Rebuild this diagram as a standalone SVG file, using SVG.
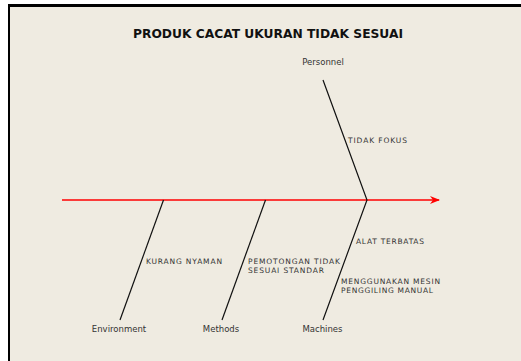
<svg xmlns="http://www.w3.org/2000/svg" width="521" height="361" viewBox="0 0 521 361">
<style>
.bone{stroke:#111;stroke-width:1.2;fill:none}
.t{font-family:"DejaVu Sans","Liberation Sans",sans-serif;fill:#333}
.cat{font-size:8.5px;text-anchor:middle}
.cause{font-size:7.5px}
.title{font-family:"DejaVu Sans","Liberation Sans",sans-serif;font-weight:bold;font-size:12px;fill:#111;text-anchor:middle}
</style>
<defs>
<marker id="arr" viewBox="0 0 10 10" refX="9" refY="5" markerWidth="10" markerHeight="10" markerUnits="userSpaceOnUse" orient="auto">
<path d="M0,1 L10,5 L0,9 L3,5 Z" fill="#ff0000"/>
</marker>
</defs>
<rect x="0" y="0" width="521" height="361" fill="#ffffff"/>
<rect x="8" y="4" width="513" height="357" fill="#000"/>
<rect x="10" y="7" width="511" height="354" fill="#efebe1"/>
<text class="title" x="268" y="38" textLength="270" lengthAdjust="spacingAndGlyphs">PRODUK CACAT UKURAN TIDAK SESUAI</text>
<g id="connectors">
<line x1="62" y1="200" x2="439" y2="200" stroke="#ff0000" stroke-width="1.3" marker-end="url(#arr)"/>
<polyline class="bone" points="323,80 367,200 323,320"/>
<line class="bone" x1="265.5" y1="200" x2="222" y2="320"/>
<line class="bone" x1="163.5" y1="200" x2="120" y2="320"/>
</g>
<g id="personnel">
<text class="t cat" x="323" y="65">Personnel</text>
<text class="t cause" x="348" y="143" textLength="59" lengthAdjust="spacing">TIDAK FOKUS</text>
</g>
<g id="environment">
<text class="t cat" x="119" y="332">Environment</text>
<text class="t cause" x="146" y="264" textLength="76" lengthAdjust="spacing">KURANG NYAMAN</text>
</g>
<g id="methods">
<text class="t cat" x="221" y="332">Methods</text>
<text class="t cause" x="248" y="264" textLength="92" lengthAdjust="spacing">PEMOTONGAN TIDAK</text>
<text class="t cause" x="248" y="272.5" textLength="76" lengthAdjust="spacing">SESUAI STANDAR</text>
</g>
<g id="machines">
<text class="t cat" x="322.5" y="332">Machines</text>
<text class="t cause" x="356" y="244" textLength="68" lengthAdjust="spacing">ALAT TERBATAS</text>
<text class="t cause" x="341" y="284" textLength="99" lengthAdjust="spacing">MENGGUNAKAN MESIN</text>
<text class="t cause" x="341" y="293" textLength="92" lengthAdjust="spacing">PENGGILING MANUAL</text>
</g>
</svg>
